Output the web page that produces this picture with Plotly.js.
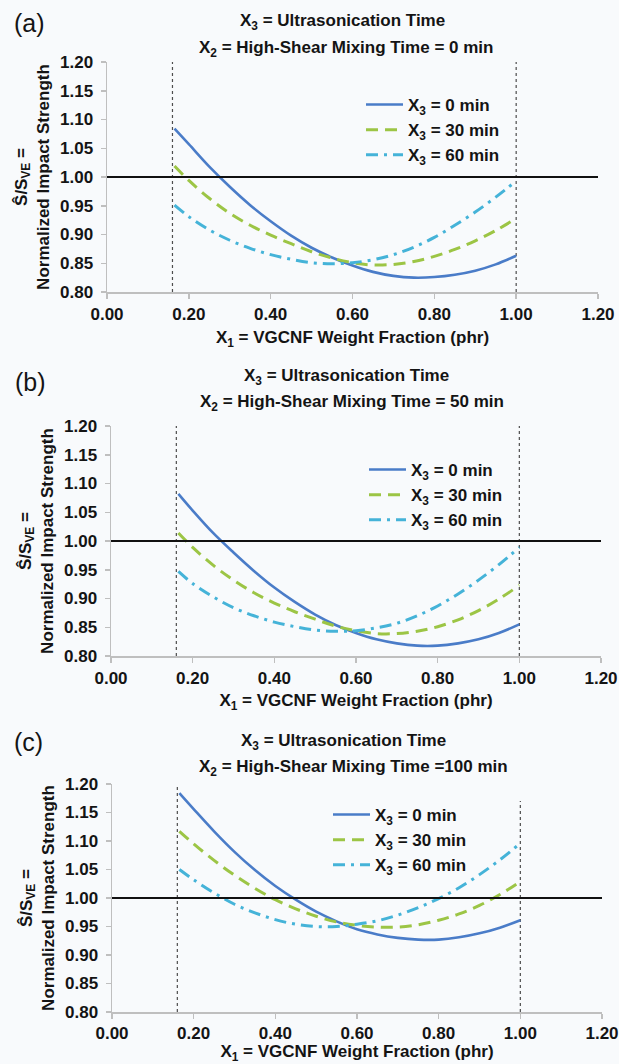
<!DOCTYPE html>
<html>
<head>
<meta charset="utf-8">
<script src="https://cdn.plot.ly/plotly-3.0.1.min.js"></script>
<style>
html,body{margin:0;padding:0;background:#f8fafc;}
#chart{width:619px;height:1064px;}
</style>
</head>
<body>
<div id="chart"></div>
<script>
// ---------- DATA ----------
const x1Values = [0.165, 0.20, 0.25, 0.30, 0.35, 0.40, 0.45, 0.50, 0.55, 0.60, 0.65, 0.70, 0.75, 0.80, 0.85, 0.90, 0.95, 1.00];

// (a) X2 = 0 min
const panelA_X3_0  = [1.084, 1.057, 1.018, 0.983, 0.951, 0.923, 0.898, 0.877, 0.860, 0.846, 0.835, 0.828, 0.825, 0.826, 0.830, 0.837, 0.848, 0.863];
const panelA_X3_30 = [1.019, 0.994, 0.963, 0.937, 0.916, 0.899, 0.884, 0.870, 0.859, 0.851, 0.847, 0.848, 0.853, 0.862, 0.874, 0.889, 0.907, 0.928];
const panelA_X3_60 = [0.951, 0.931, 0.908, 0.890, 0.876, 0.865, 0.857, 0.851, 0.849, 0.851, 0.856, 0.865, 0.878, 0.895, 0.916, 0.939, 0.965, 0.993];

// (b) X2 = 50 min
const panelB_X3_0  = [1.082, 1.053, 1.014, 0.980, 0.948, 0.919, 0.894, 0.872, 0.854, 0.840, 0.829, 0.822, 0.818, 0.818, 0.822, 0.829, 0.840, 0.855];
const panelB_X3_30 = [1.014, 0.989, 0.958, 0.932, 0.910, 0.892, 0.877, 0.864, 0.852, 0.844, 0.839, 0.839, 0.843, 0.851, 0.863, 0.879, 0.899, 0.923];
const panelB_X3_60 = [0.947, 0.926, 0.903, 0.884, 0.870, 0.859, 0.851, 0.845, 0.843, 0.844, 0.849, 0.857, 0.870, 0.887, 0.908, 0.932, 0.959, 0.989];

// (c) X2 = 100 min
const panelC_X3_0  = [1.184, 1.156, 1.117, 1.081, 1.049, 1.021, 0.997, 0.976, 0.959, 0.945, 0.936, 0.930, 0.927, 0.927, 0.931, 0.938, 0.948, 0.961];
const panelC_X3_30 = [1.117, 1.095, 1.066, 1.040, 1.017, 0.997, 0.981, 0.968, 0.958, 0.952, 0.949, 0.949, 0.953, 0.961, 0.972, 0.987, 1.006, 1.029];
const panelC_X3_60 = [1.050, 1.032, 1.009, 0.989, 0.974, 0.962, 0.954, 0.950, 0.950, 0.954, 0.960, 0.970, 0.983, 0.999, 1.018, 1.041, 1.067, 1.096];

const seriesNames = ['X<sub>3</sub> = 0 min', 'X<sub>3</sub> = 30 min', 'X<sub>3</sub> = 60 min'];
const panelLabels = ['(a)', '(b)', '(c)'];
const titleLine1 = ['X<sub>3</sub> = Ultrasonication Time', 'X<sub>3</sub> = Ultrasonication Time', 'X<sub>3</sub> = Ultrasonication Time'];
const titleLine2 = ['X<sub>2</sub> = High-Shear Mixing Time = 0 min', 'X<sub>2</sub> = High-Shear Mixing Time = 50 min', 'X<sub>2</sub> = High-Shear Mixing Time =100 min'];
const xAxisTitle = 'X<sub>1</sub> = VGCNF Weight Fraction (phr)';
const yAxisTitle = 'Ŝ/S<sub>VE</sub> =<br>Normalized Impact Strength';
const xTickVals = [0, 0.2, 0.4, 0.6, 0.8, 1.0, 1.2];
const yTickVals = [0.80, 0.85, 0.90, 0.95, 1.00, 1.05, 1.10, 1.15, 1.20];
const referenceLevel = [1.00];
const x1Bounds = [0.16, 1.00];
const rightBoundTop = [1.20, 1.20, 1.17];

const panelSeries = [
  [panelA_X3_0, panelA_X3_30, panelA_X3_60],
  [panelB_X3_0, panelB_X3_30, panelB_X3_60],
  [panelC_X3_0, panelC_X3_30, panelC_X3_60]
];

// ---------- STYLE / LAYOUT ----------
const W = 619, H = 1064;
const PX = v => v / W, PY = v => 1 - v / H;
const FONT = 'Liberation Sans, Arial, Helvetica, sans-serif';
const TXT = '#141414';
const AXC = '#bfbfbf';
const lineStyles = [
  {color: '#4a7cc8', width: 2.6, dash: 'solid'},
  {color: '#9cc545', width: 3, dash: '12px,7px'},
  {color: '#45b3d8', width: 3, dash: '12px,6px,3px,6px'}
];

// pixel geometry per panel: plot [left,right,top,bottom], title line centers, label pos, legend anchor
const geo = [
  {plot: [107, 598, 62, 292],   t1: [342, 22],  t2: [346, 49],  lab: [12, 23],  leg: [361, 87],  xts: 8, xls: 1},
  {plot: [111, 601, 426, 656],  t1: [346, 377], t2: [352, 403], lab: [13, 382], leg: [364, 452], xts: 7, xls: 1},
  {plot: [112, 602, 784, 1012], t1: [343, 742], t2: [353, 768], lab: [12, 742], leg: [328, 797], xts: 7, xls: 0}
];

const data = [];
const layout = {
  width: W, height: H,
  margin: {l: 0, r: 0, t: 0, b: 0},
  paper_bgcolor: '#f8fafc',
  plot_bgcolor: '#f8fafc',
  font: {family: FONT, color: TXT, size: 17},
  showlegend: true,
  annotations: [],
  shapes: []
};

geo.forEach((g, i) => {
  const sfx = i === 0 ? '' : String(i + 1);
  const xa = 'x' + sfx, ya = 'y' + sfx;
  const legName = 'legend' + sfx;

  panelSeries[i].forEach((vals, k) => {
    data.push({
      type: 'scatter', mode: 'lines',
      x: x1Values, y: vals,
      name: seriesNames[k],
      xaxis: xa, yaxis: ya,
      legend: legName,
      line: {color: lineStyles[k].color, width: lineStyles[k].width, dash: lineStyles[k].dash, shape: 'spline', smoothing: 1},
      hoverinfo: 'x+y+name'
    });
  });

  const boldFont = {family: FONT, size: 17, color: TXT, weight: 'bold'};

  layout['xaxis' + sfx] = {
    domain: [PX(g.plot[0]), PX(g.plot[1])],
    anchor: ya,
    range: [0, 1.2],
    tickvals: xTickVals,
    tickformat: '.2f',
    ticks: 'outside', ticklen: 5, tickwidth: 1.5, tickcolor: AXC,
    ticklabelstandoff: g.xls,
    ticklabeloverflow: 'allow',
    showline: true, linecolor: AXC, linewidth: 1.5,
    showgrid: false, zeroline: false,
    tickfont: boldFont,
    title: {text: xAxisTitle, font: boldFont, standoff: g.xts},
    fixedrange: true
  };
  layout['yaxis' + sfx] = {
    domain: [PY(g.plot[3]), PY(g.plot[2])],
    anchor: xa,
    range: [0.8, 1.2],
    tickvals: yTickVals,
    tickformat: '.2f',
    ticks: 'outside', ticklen: 5, tickwidth: 1.5, tickcolor: AXC,
    ticklabelstandoff: 4,
    ticklabeloverflow: 'allow',
    showline: true, linecolor: AXC, linewidth: 1.5,
    showgrid: false, zeroline: false,
    tickfont: boldFont,
    title: {text: yAxisTitle, font: boldFont, standoff: 6},
    fixedrange: true
  };

  layout[legName] = {
    x: PX(g.leg[0]), y: PY(g.leg[1]),
    xanchor: 'left', yanchor: 'top',
    xref: 'paper', yref: 'paper',
    bgcolor: 'rgba(0,0,0,0)', borderwidth: 0,
    itemwidth: 37,
    tracegroupgap: 0,
    font: {family: FONT, size: 17, color: TXT, weight: 'bold'}
  };

  // reference line at 1.00 across the plot
  layout.shapes.push({
    type: 'line', xref: xa + ' domain', yref: ya,
    x0: 0, x1: 1, y0: referenceLevel[0], y1: referenceLevel[0],
    line: {color: '#111111', width: 2}, layer: 'above'
  });
  // dotted bounds of X1
  x1Bounds.forEach((b, j) => {
    layout.shapes.push({
      type: 'line', xref: xa, yref: ya,
      x0: b, x1: b, y0: 0.8, y1: j === 1 ? rightBoundTop[i] : 1.2,
      line: {color: '#4d4d4d', width: 1.2, dash: 'dot'}, layer: 'below'
    });
  });

  layout.annotations.push(
    {text: titleLine1[i], xref: 'paper', yref: 'paper', x: PX(g.t1[0]), y: PY(g.t1[1]),
     xanchor: 'center', yanchor: 'middle', showarrow: false, font: {family: FONT, size: 17, color: TXT, weight: 'bold'}},
    {text: titleLine2[i], xref: 'paper', yref: 'paper', x: PX(g.t2[0]), y: PY(g.t2[1]),
     xanchor: 'center', yanchor: 'middle', showarrow: false, font: {family: FONT, size: 17, color: TXT, weight: 'bold'}},
    {text: panelLabels[i], xref: 'paper', yref: 'paper', x: PX(g.lab[0]), y: PY(g.lab[1]),
     xanchor: 'left', yanchor: 'middle', showarrow: false, font: {family: FONT, size: 25, color: TXT}}
  );
});

Plotly.newPlot('chart', data, layout, {displayModeBar: false, staticPlot: true});
</script>
</body>
</html>
